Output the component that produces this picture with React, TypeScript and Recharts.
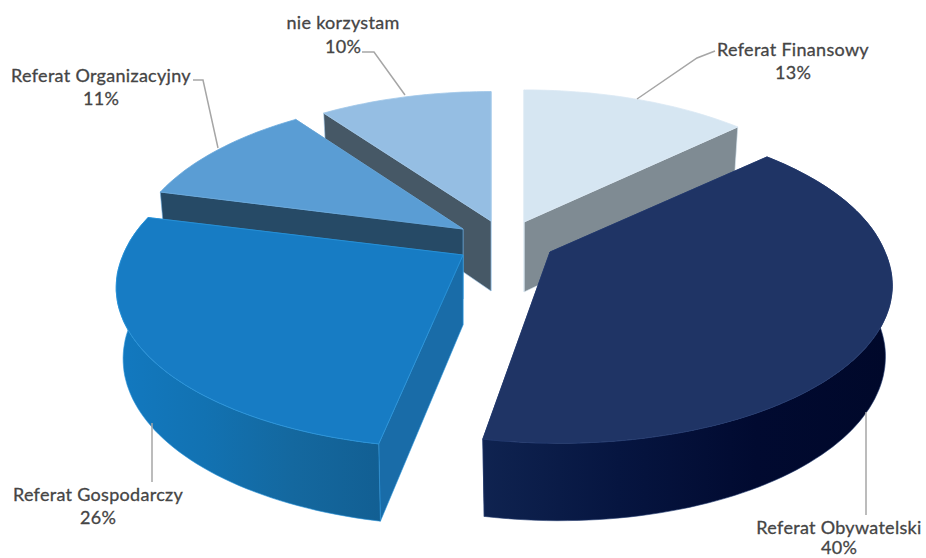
import { Pie, PieChart } from "recharts";

// order = paint order, back slices first; the Pie runs counter-clockwise from 43.2deg
const names = ["Referat Finansowy", "nie korzystam", "Referat Organizacyjny", "Referat Gospodarczy", "Referat Obywatelski"];
const shares = [13, 10, 11, 26, 40];

const data = names.map((name, i) => ({ name, value: shares[i] }));

type Look = {
  dx: number;
  dy: number;
  size: number;
  sizeY: number;
  lean: number;
  top: string;
  edge: string;
  wall: string;
  outer: string[];
};

const CX = 505;
const CY = 235;
const RADIUS = 330;
const SQUASH = 0.476;
const PERSPECTIVE = 0.183;
const DEPTH = 70;

const looks: Record<string, Look> = {
  "Referat Finansowy": { dx: 19, dy: -13, size: 1, sizeY: 0.995, lean: 0, top: "#d6e6f2", edge: "#dbe9f4", wall: "#7f8b93", outer: [] },
  "nie korzystam": { dx: -14, dy: -14, size: 0.99, sizeY: 0.985, lean: 0, top: "#95bee3", edge: "#a0c6e8", wall: "#465866", outer: [] },
  "Referat Organizacyjny": { dx: -42, dy: -6, size: 0.99, sizeY: 1, lean: 0, top: "#5a9dd4", edge: "#68a8dc", wall: "#264a66", outer: [] },
  "Referat Gospodarczy": { dx: -42, dy: 20, size: 1.03, sizeY: 0.975, lean: -0.035, top: "#177cc4", edge: "#2a94da", wall: "#196ca8", outer: ["#1279c0", "#1272b2", "#14689f", "#125f93"] },
  "Referat Obywatelski": { dx: 45, dy: 17, size: 1.015, sizeY: 0.98, lean: 0.05, top: "#1f3465", edge: "#233a6e", wall: "#0f2350", outer: ["#0f2350", "#061540", "#010a30", "#00082a"] },
};

const labelLines: Record<string, { x: number; y1: number; y2: number; line: string }> = {
  "Referat Finansowy": { x: 793, y1: 56, y2: 79, line: "637,99 697,58 715,51" },
  "nie korzystam": { x: 343, y1: 29, y2: 53, line: "405,95 374,52 362,52" },
  "Referat Organizacyjny": { x: 101, y1: 82, y2: 105, line: "218,148 203,80 193,80" },
  "Referat Gospodarczy": { x: 98, y1: 501, y2: 524, line: "152,423 152,482" },
  "Referat Obywatelski": { x: 839, y1: 534, y2: 554, line: "866,412 866,515" },
};

const TEXT_STYLE = { fontFamily: "Lato, 'Open Sans', sans-serif", fontSize: 18, fontWeight: 400, fill: "#454545", stroke: "#454545", strokeWidth: 0.3, letterSpacing: 0.3 };

function topPoint(look: Look, deg: number) {
  const a = (deg * Math.PI) / 180;
  const u = Math.cos(a);
  const v = Math.sin(a);
  const s = 1 / (1 + PERSPECTIVE * v);
  const r = RADIUS * look.size;
  const y = -v * r * SQUASH * look.sizeY * s;
  // front edge leans a little, the source chart is not a clean projection
  const x = u * r * s + (y > 0 ? y * look.lean : 0);
  return { x, y, s };
}

function bottomPoint(look: Look, deg: number) {
  const p = topPoint(look, deg);
  return { x: p.x * 0.98, y: p.y + DEPTH * Math.sqrt(p.s) };
}

function toPath(points: { x: number; y: number }[]) {
  return points.map((p, i) => `${i ? "L" : "M"}${p.x.toFixed(1)} ${p.y.toFixed(1)}`).join(" ") + " Z";
}

function Slice3D(props: any) {
  const look = looks[props.name];
  const { cx, cy, startAngle, endAngle } = props;
  const arc: number[] = [];
  for (let d = startAngle; d < endAngle; d += 1.5) arc.push(d);
  arc.push(endAngle);

  const apex = { x: 0, y: 0 };
  const apexLow = { x: 0, y: DEPTH };
  const topArc = arc.map((d) => topPoint(look, d));
  const lowArc = arc.map((d) => bottomPoint(look, d));
  const gradId = `wall-${shares[names.indexOf(props.name)]}`;

  return (
    <g transform={`translate(${cx + look.dx} ${cy + look.dy})`}>
      <path d={toPath([apex, topArc[0], lowArc[0], apexLow])} fill={look.wall} stroke={look.edge} strokeWidth={0.6} />
      <path d={toPath([apex, topArc[topArc.length - 1], lowArc[lowArc.length - 1], apexLow])} fill={look.wall} stroke={look.edge} strokeWidth={0.6} />
      {look.outer.length > 0 && (
        <>
          <defs>
            <linearGradient id={gradId} x1="0" y1="0" x2="1" y2="0">
              {look.outer.map((c, i) => (
                <stop key={i} offset={i / (look.outer.length - 1)} stopColor={c} />
              ))}
            </linearGradient>
          </defs>
          <path d={toPath([...topArc, ...[...lowArc].reverse()])} fill={`url(#${gradId})`} stroke={look.edge} strokeWidth={0.6} />
        </>
      )}
      <path d={toPath([apex, ...topArc])} fill={look.top} stroke={look.edge} strokeWidth={0.8} />
    </g>
  );
}

function SliceLabel(props: any) {
  const pos = labelLines[props.name];
  return (
    <g>
      <polyline points={pos.line} fill="none" stroke="#a6a6a6" strokeWidth={1.5} />
      <text x={pos.x} y={pos.y1} textAnchor="middle" style={TEXT_STYLE}>
        {props.name}
      </text>
      <text x={pos.x} y={pos.y2} textAnchor="middle" style={TEXT_STYLE}>
        {props.value}%
      </text>
    </g>
  );
}

export default function App() {
  return (
    <div style={{ position: "absolute", left: 0, top: 0, width: 926, height: 558, background: "#fff", overflow: "hidden" }}>
      <PieChart width={926} height={558} margin={{ top: 0, right: 0, bottom: 0, left: 0 }}>
        <Pie
          data={data}
          dataKey="value"
          nameKey="name"
          cx={CX}
          cy={CY}
          innerRadius={0}
          outerRadius={RADIUS}
          startAngle={43.2}
          endAngle={403.2}
          paddingAngle={0}
          stroke="none"
          isAnimationActive={false}
          shape={Slice3D}
          activeShape={Slice3D}
          inactiveShape={Slice3D}
          label={SliceLabel}
          labelLine={false}
        />
      </PieChart>
    </div>
  );
}
